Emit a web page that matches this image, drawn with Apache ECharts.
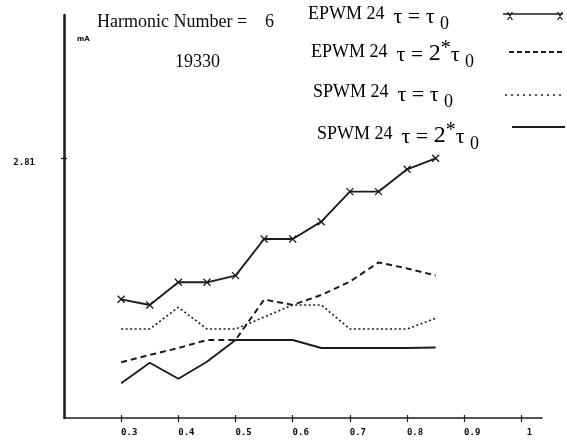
<!DOCTYPE html>
<html>
<head>
<meta charset="utf-8">
<script src="https://cdn.jsdelivr.net/npm/echarts@6/dist/echarts.min.js"></script>
<style>
  html, body { margin: 0; padding: 0; background: #ffffff; }
  #chart { width: 567px; height: 440px; }
</style>
</head>
<body>
<div id="chart"></div>
<script>
// Modulation index on the x axis
const modulation = [0.3, 0.35, 0.4, 0.45, 0.5, 0.55, 0.6, 0.65, 0.7, 0.75, 0.8, 0.85];

// 6th harmonic current (mA)
const epwmTau  = [1.284, 1.223, 1.468, 1.468, 1.540, 1.937, 1.937, 2.124, 2.449, 2.449, 2.691, 2.81];
const epwm2Tau = [0.603, 0.682, 0.757, 0.844, 0.844, 1.282, 1.223, 1.331, 1.475, 1.683, 1.618, 1.542];
const spwmTau  = [0.963, 0.963, 1.198, 0.963, 0.963, 1.093, 1.223, 1.223, 0.963, 0.963, 0.963, 1.079];
const spwm2Tau = [0.375, 0.598, 0.425, 0.609, 0.844, 0.844, 0.844, 0.757, 0.757, 0.757, 0.757, 0.763];

// Axis ticks and labels
const xTicks = [0.3, 0.4, 0.5, 0.6, 0.7, 0.8, 0.9, 1];
const yTicks = [2.81];

const seriesNames = ['EPWM 24 tau', 'EPWM 24 2tau', 'SPWM 24 tau', 'SPWM 24 2tau'];

const INK = '#1c1c1c';
const TEXT = '#0a0a0a';
const SERIF = '"Liberation Serif", "Times New Roman", serif';
const MONO = '"DejaVu Sans Mono", monospace';

const pairs = ys => modulation.map((x, i) => [x, ys[i]]);

// Legend sample shapes built as filled paths
function dashIcon(n, dash, gap, h) {
  let d = '';
  for (let i = 0; i < n; i++) {
    const x0 = i * (dash + gap), x1 = x0 + dash;
    d += `M${x0},0L${x1},0L${x1},${h}L${x0},${h}Z`;
  }
  return 'path://' + d;
}
function crossAt(cx) {
  const a = cx - 3, b = cx + 3;
  return `M${a},0L${a + 1.3},0L${b},8L${b - 1.3},8Z` +
         `M${b - 1.3},0L${b},0L${a + 1.3},8L${a},8Z`;
}
const markedLineIcon = 'path://M0,1.2L60,1.2L60,2.8L0,2.8Z' + crossAt(7) + crossAt(57);

function legendAt(name, icon, left, top, w, h) {
  return {
    data: [{ name: name, icon: icon }],
    left: left, top: top, padding: 0,
    itemWidth: w, itemHeight: h,
    selectedMode: false,
    formatter: () => '',
    itemStyle: { borderWidth: 0 },
    textStyle: { fontSize: 1 }
  };
}

// Legend captions: name, tau expression, lowered subscript zero
const rich = {
  n:  { fontFamily: SERIF, fontSize: 18, color: TEXT },
  m:  { fontFamily: SERIF, fontSize: 22, color: TEXT, padding: [6, 0, 0, 0] },
  d:  { fontFamily: SERIF, fontSize: 24, color: TEXT, padding: [3, 0, 0, 0] },
  st: { fontFamily: SERIF, fontSize: 20, color: TEXT, padding: [0, 0, 6, 0] },
  s:  { fontFamily: SERIF, fontSize: 18, color: TEXT, padding: [20, 0, 0, 0] }
};
function caption(x, y, text) {
  return {
    type: 'text', x: x, y: y, silent: true,
    style: { text: text, rich: rich, verticalAlign: 'middle', align: 'left' }
  };
}

const chart = echarts.init(document.getElementById('chart'), null, { renderer: 'canvas' });

chart.setOption({
  animation: false,
  backgroundColor: '#ffffff',
  grid: { left: 64, right: 25, top: 15, bottom: 22, containLabel: false },
  xAxis: [{
    type: 'value', min: 0.2, max: 1.036,
    axisLine: { show: true, lineStyle: { color: INK, width: 1.5 } },
    axisTick: { show: true, customValues: xTicks, length: 4, lineStyle: { color: INK, width: 1.2 } },
    axisLabel: {
      show: true, customValues: xTicks, margin: 10,
      formatter: v => '{t|' + (v === 1 ? '1' : v.toFixed(1)) + '}',
      rich: { t: { fontFamily: MONO, fontWeight: 'bold', fontSize: 9, color: TEXT, padding: [0, 0, 0, 16] } }
    },
    splitLine: { show: false }
  }, {
    type: 'value', min: 0.2, max: 1.036, position: 'bottom',
    axisLine: { show: false },
    axisTick: { show: true, inside: true, customValues: xTicks, length: 3, lineStyle: { color: INK, width: 1.2 } },
    axisLabel: { show: false },
    splitLine: { show: false }
  }],
  yAxis: [{
    type: 'value', min: 0, max: 4.36,
    axisLine: { show: true, lineStyle: { color: INK, width: 2.5 } },
    axisTick: { show: true, customValues: yTicks, length: 3, lineStyle: { color: INK, width: 1.2 } },
    axisLabel: {
      show: true, customValues: yTicks, margin: 29,
      formatter: v => '{t|' + v.toFixed(2) + '}',
      rich: { t: { fontFamily: MONO, fontWeight: 'bold', fontSize: 9, color: TEXT, padding: [8, 0, 0, 0] } }
    },
    splitLine: { show: false }
  }, {
    type: 'value', min: 0, max: 4.36, position: 'left',
    axisLine: { show: false },
    axisTick: { show: true, inside: true, customValues: yTicks, length: 3, lineStyle: { color: INK, width: 1.2 } },
    axisLabel: { show: false },
    splitLine: { show: false }
  }],
  legend: [
    legendAt(seriesNames[0], markedLineIcon, 503, 12, 60, 8),
    legendAt(seriesNames[1], dashIcon(7, 5, 3, 2), 509, 51, 53, 2),
    legendAt(seriesNames[2], dashIcon(10, 2, 4, 1.6), 505, 94.2, 56, 1.6),
    legendAt(seriesNames[3], 'path://M0,0L53,0L53,2L0,2Z', 512, 126, 53, 2)
  ],
  series: [
    {
      name: seriesNames[0], type: 'line', data: pairs(epwmTau),
      symbol: 'path://M0,0L10,10M10,0L0,10', symbolSize: 7,
      itemStyle: { color: INK, borderColor: INK, borderWidth: 1.3 },
      lineStyle: { color: INK, width: 1.9, type: 'solid' },
      color: INK, silent: true
    },
    {
      name: seriesNames[1], type: 'line', data: pairs(epwm2Tau),
      symbol: 'none', itemStyle: { color: INK },
      lineStyle: { color: INK, width: 2, type: [6, 4] },
      color: INK, silent: true
    },
    {
      name: seriesNames[2], type: 'line', data: pairs(spwmTau),
      symbol: 'none', itemStyle: { color: INK },
      lineStyle: { color: INK, width: 1.6, type: [2, 2.5] },
      color: INK, silent: true
    },
    {
      name: seriesNames[3], type: 'line', data: pairs(spwm2Tau),
      symbol: 'none', itemStyle: { color: INK },
      lineStyle: { color: INK, width: 1.9, type: 'solid' },
      color: INK, silent: true
    }
  ],
  graphic: [
    { type: 'text', x: 97, y: 22, silent: true,
      style: { text: 'Harmonic Number =    6', font: '18px ' + SERIF, fill: TEXT, verticalAlign: 'middle' } },
    { type: 'text', x: 175, y: 62, silent: true,
      style: { text: '19330', font: '18px ' + SERIF, fill: TEXT, verticalAlign: 'middle' } },
    { type: 'text', x: 77, y: 39, silent: true,
      style: { text: 'mA', font: 'bold 7px "DejaVu Sans", sans-serif', fill: TEXT, verticalAlign: 'middle' } },
    caption(308, 14, '{n|EPWM 24  }{m|τ = τ }{s|0}'),
    caption(311, 52, '{n|EPWM 24  }{m|τ = }{d|2}{st|*}{m|τ }{s|0}'),
    caption(313, 92, '{n|SPWM 24  }{m|τ = τ }{s|0}'),
    caption(317, 134, '{n|SPWM 24  }{m|τ = }{d|2}{st|*}{m|τ }{s|0}')
  ]
});
</script>
</body>
</html>
